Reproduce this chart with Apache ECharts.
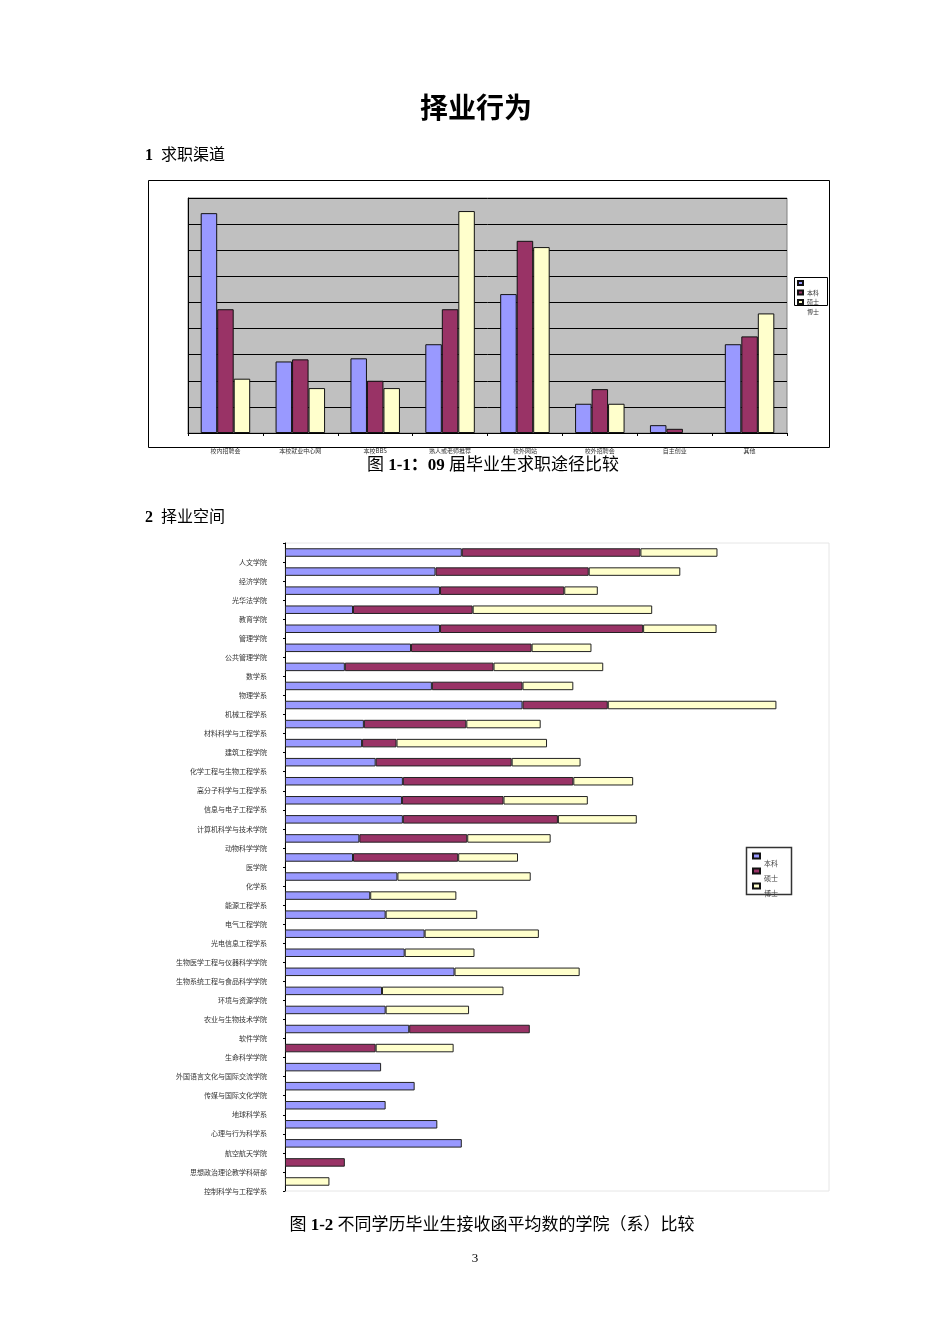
<!DOCTYPE html>
<html><head><meta charset="utf-8">
<script src="https://cdn.jsdelivr.net/npm/echarts@6/dist/echarts.min.js"></script>
<style>html,body{margin:0;padding:0;background:#fff}#c{width:950px;height:1344px}</style>
</head><body><div id="c"></div>
<script>
// ---------- data ----------
const seriesNames = ['本科', '硕士', '博士'];
const seriesColors = ['#9999FF', '#993366', '#FFFFCC'];

// Figure 1-1 : job-hunting channels (percent)
const channelCategories = ['校内招聘会', '本校就业中心网', '本校BBS', '熟人或老师推荐', '校外网站', '校外招聘会', '自主创业', '其他'];
const channelBachelor = [42.1, 13.7, 14.3, 17.0, 26.6, 5.6, 1.5, 17.0];
const channelMaster   = [23.7, 14.1, 10.0, 23.7, 36.8, 8.4, 0.8, 18.5];
const channelDoctor   = [10.4, 8.6, 8.6, 42.5, 35.6, 5.6, null, 22.9];

// Figure 1-2 : average number of offers by college
const colleges = ['人文学院', '经济学院', '光华法学院', '教育学院', '管理学院', '公共管理学院', '数学系', '物理学系',
  '机械工程学系', '材料科学与工程学系', '建筑工程学院', '化学工程与生物工程学系', '高分子科学与工程学系',
  '信息与电子工程学系', '计算机科学与技术学院', '动物科学学院', '医学院', '化学系', '能源工程学系', '电气工程学院',
  '光电信息工程学系', '生物医学工程与仪器科学学院', '生物系统工程与食品科学学院', '环境与资源学院', '农业与生物技术学院',
  '软件学院', '生命科学学院', '外国语言文化与国际交流学院', '传媒与国际文化学院', '地球科学系', '心理与行为科学系',
  '航空航天学院', '思想政治理论教学科研部', '控制科学与工程学系'];
const collegeBachelor = [1.95, 1.66, 1.71, 0.75, 1.71, 1.39, 0.66, 1.62, 2.62, 0.87, 0.85, 1.00, 1.30, 1.29, 1.30, 0.82, 0.75,
  1.24, 0.94, 1.11, 1.54, 1.32, 1.87, 1.07, 1.11, 1.37, null, 1.06, 1.43, 1.11, 1.68, 1.95, null, null];
const collegeMaster = [1.97, 1.69, 1.37, 1.32, 2.24, 1.33, 1.64, 1.00, 0.94, 1.13, 0.38, 1.50, 1.88, 1.12, 1.71, 1.19, 1.16,
  null, null, null, null, null, null, null, null, 1.33, 1.00, null, null, null, null, null, 0.66, null];
const collegeDoctor = [0.85, 1.01, 0.37, 1.98, 0.81, 0.66, 1.21, 0.56, 1.86, 0.82, 1.66, 0.76, 0.66, 0.93, 0.87, 0.92, 0.66,
  1.47, 0.95, 1.01, 1.26, 0.77, 1.38, 1.34, 0.92, null, 0.86, null, null, null, null, null, null, 0.49];

// ---------- chart ----------
const CJK = "'Noto Sans CJK SC', sans-serif";
const SERIF = "'Liberation Serif', 'Noto Sans CJK SC', serif";
const chart = echarts.init(document.getElementById('c'), null, {renderer: 'canvas'});

const channelData = [channelBachelor, channelMaster, channelDoctor];
const collegeData = [collegeBachelor, collegeMaster, collegeDoctor];

const series = [];
seriesNames.forEach((n, i) => {
  series.push({
    name: n, type: 'bar', xAxisIndex: 0, yAxisIndex: 0,
    data: channelData[i], barWidth: 16.5, barGap: '0%',
    itemStyle: {color: seriesColors[i], borderColor: '#111', borderWidth: 1},
    emphasis: {disabled: true}
  });
});
seriesNames.forEach((n, i) => {
  series.push({
    name: n, type: 'bar', xAxisIndex: 1, yAxisIndex: 1, stack: 'college',
    data: collegeData[i], barWidth: 8.5,
    itemStyle: {color: seriesColors[i], borderColor: '#222', borderWidth: 1},
    emphasis: {disabled: true}
  });
});

const boldRich = {b: {fontFamily: SERIF, fontWeight: 'bold', fontSize: 17, fill: '#000'}};
const boldRich16 = {b: {fontFamily: SERIF, fontWeight: 'bold', fontSize: 16, fill: '#000'}};

const option = {
  backgroundColor: '#fff',
  animation: false,
  grid: [
    {left: 188, top: 198, width: 599, height: 235, show: true, backgroundColor: '#C0C0C0', borderColor: '#808080', borderWidth: 1},
    {left: 285, top: 543, width: 544, height: 648, show: true, backgroundColor: 'transparent', borderColor: '#e6e6e6', borderWidth: 1}
  ],
  xAxis: [
    {gridIndex: 0, type: 'category', data: channelCategories,
      axisLine: {lineStyle: {color: '#000', width: 1}},
      axisTick: {show: true, length: 3, lineStyle: {color: '#000'}},
      axisLabel: {interval: 0, fontSize: 6, color: '#333', margin: 15, fontFamily: CJK}},
    {gridIndex: 1, type: 'value', min: 0, max: 6, show: false}
  ],
  yAxis: [
    {gridIndex: 0, type: 'value', min: 0, max: 45, interval: 5,
      axisLine: {show: true, lineStyle: {color: '#000'}},
      axisTick: {show: false}, axisLabel: {show: false},
      splitLine: {show: true, lineStyle: {color: '#000', width: 1}}},
    {gridIndex: 1, type: 'category', inverse: true, data: colleges,
      axisLine: {show: true, lineStyle: {color: '#000', width: 1}},
      axisTick: {show: true, length: 2, lineStyle: {color: '#000'}},
      splitLine: {show: false},
      axisLabel: {interval: 0, fontSize: 7, lineHeight: 19, color: '#333', margin: 18, fontFamily: CJK,
        formatter: v => '\n' + v}}
  ],
  legend: [
    {left: 797, top: 279.5, orient: 'vertical', itemWidth: 5, itemHeight: 4, itemGap: 2.5, padding: 0, icon: 'rect',
      selectedMode: false, data: seriesNames,
      textStyle: {fontSize: 6, lineHeight: 7, color: 'transparent', fontFamily: CJK}},
    {left: 797, top: 289, orient: 'vertical', itemWidth: 5, itemHeight: 4, itemGap: 2.5, padding: 0, icon: 'rect',
      selectedMode: false, data: seriesNames,
      itemStyle: {opacity: 0, color: 'transparent', borderWidth: 0},
      textStyle: {fontSize: 6, lineHeight: 7, color: '#333', fontFamily: CJK}},
    {left: 752, top: 852, orient: 'vertical', itemWidth: 7, itemHeight: 5, itemGap: 7, padding: 0, icon: 'rect',
      selectedMode: false, data: seriesNames,
      textStyle: {fontSize: 7, lineHeight: 8, color: 'transparent', fontFamily: CJK}},
    {left: 752, top: 859.5, orient: 'vertical', itemWidth: 7, itemHeight: 5, itemGap: 7, padding: 0, icon: 'rect',
      selectedMode: false, data: seriesNames,
      itemStyle: {opacity: 0, color: 'transparent', borderWidth: 0},
      textStyle: {fontSize: 7, lineHeight: 8, color: '#444', fontFamily: CJK}}
  ],
  graphic: [
    {type: 'rect', silent: true, z: 0, shape: {x: 148.5, y: 180.5, width: 681, height: 267},
      style: {fill: 'none', stroke: '#000', lineWidth: 1}},
    {type: 'rect', silent: true, z: 0, shape: {x: 794.5, y: 277.5, width: 33, height: 28},
      style: {fill: 'none', stroke: '#000', lineWidth: 1}},
    {type: 'rect', silent: true, z: 0, shape: {x: 746.5, y: 847.5, width: 45, height: 47},
      style: {fill: 'none', stroke: '#333', lineWidth: 1.5}},
    {type: 'text', x: 476, y: 107, silent: true,
      style: {text: '择业行为', fontSize: 28, fontWeight: 'bold', fontFamily: CJK, fill: '#000', align: 'center', verticalAlign: 'middle'}},
    {type: 'text', x: 145, y: 156, silent: true,
      style: {text: '{b|1}  求职渠道', fontSize: 16, fontFamily: SERIF, fill: '#000', align: 'left', verticalAlign: 'middle', rich: boldRich16}},
    {type: 'text', x: 493, y: 466, silent: true,
      style: {text: '图 {b|1-1：09} 届毕业生求职途径比较', fontSize: 17, fontFamily: SERIF, fill: '#000', align: 'center', verticalAlign: 'middle', rich: boldRich}},
    {type: 'text', x: 145, y: 518, silent: true,
      style: {text: '{b|2}  择业空间', fontSize: 16, fontFamily: SERIF, fill: '#000', align: 'left', verticalAlign: 'middle', rich: boldRich16}},
    {type: 'text', x: 492, y: 1226, silent: true,
      style: {text: '图 {b|1-2} 不同学历毕业生接收函平均数的学院（系）比较', fontSize: 17, fontFamily: SERIF, fill: '#000', align: 'center', verticalAlign: 'middle', rich: boldRich}},
    {type: 'text', x: 475, y: 1259, silent: true,
      style: {text: '3', fontSize: 13, fontFamily: SERIF, fill: '#000', align: 'center', verticalAlign: 'middle'}}
  ],
  series: series
};
chart.setOption(option);
</script>
</body></html>
